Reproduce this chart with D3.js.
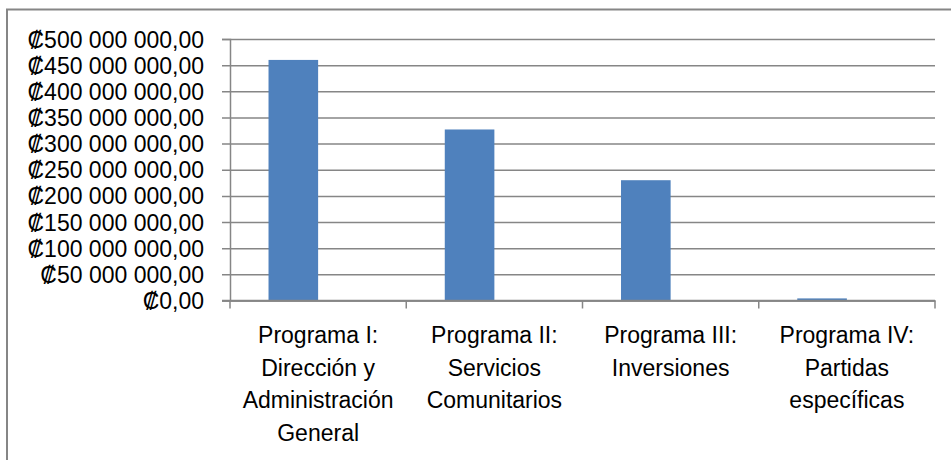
<!DOCTYPE html>
<html>
<head>
<meta charset="utf-8">
<script src="https://cdn.jsdelivr.net/npm/d3@7"></script>
<style>
  html, body { margin: 0; padding: 0; background: #fff; }
  svg { display: block; }
  text { font-family: "Liberation Sans", Arial, "DejaVu Sans", sans-serif; fill: #000; }
</style>
</head>
<body>
<div id="chart"></div>
<script>
// ---- data ----
const categories = [
  "Programa I: Dirección y Administración General",
  "Programa II: Servicios Comunitarios",
  "Programa III: Inversiones",
  "Programa IV: Partidas específicas"
];
const seriesNames = ["Monto", "Vacía"];
const values = [460000000, 327000000, 230000000, 4000000];
const yTicks = [0, 50000000, 100000000, 150000000, 200000000, 250000000, 300000000, 350000000, 400000000, 450000000, 500000000];

// ---- layout ----
const W = 951, H = 460;
const plot = { left: 230, right: 935, top: 39, bottom: 300.5 };

const svg = d3.select("#chart").append("svg").attr("width", W).attr("height", H);

// outer border (extends past right/bottom edge)
svg.append("rect")
  .attr("x", 7).attr("y", 9.5)
  .attr("width", W + 10).attr("height", H + 10)
  .attr("fill", "#fff").attr("stroke", "#868686").attr("stroke-width", 2);

const locale = d3.formatLocale({ decimal: ",", thousands: "\u00a0", grouping: [3], currency: ["₡", ""] });
const fmt = locale.format("$,.2f");

const y = d3.scaleLinear().domain([0, 500000000]).range([plot.bottom, plot.top]);
const x0 = d3.scaleBand().domain(categories).range([plot.left, plot.right]).paddingInner(0).paddingOuter(0);
const x1 = d3.scaleBand().domain(seriesNames).range([0, x0.bandwidth()]).paddingInner(0).paddingOuter(0.7765);

// gridlines + y ticks
const yAxis = d3.axisLeft(y).tickValues(yTicks).tickSize(8).tickFormat(fmt);
const gy = svg.append("g").attr("transform", `translate(${plot.left},0)`).call(yAxis);
gy.attr("font-family", null).attr("font-size", null);
gy.select(".domain").attr("stroke", "#868686").attr("stroke-width", 1.5);
gy.selectAll(".tick line").attr("stroke", "#868686").attr("stroke-width", 1.5)
  .attr("x1", -8).attr("x2", plot.right - plot.left);
gy.selectAll(".tick text")
  .attr("x", -26)
  .attr("dy", "0.35em")
  .style("font-size", "23px");

// x axis
const xAxis = d3.axisBottom(x0).tickSize(0).tickFormat("");
const gx = svg.append("g").attr("transform", `translate(0,${plot.bottom})`).call(xAxis);
gx.select(".domain").attr("stroke", "#868686").attr("stroke-width", 1.5);
gx.selectAll(".tick").remove();
const boundaries = categories.map(c => x0(c)).concat([x0.range()[1]]);
gx.selectAll("line.sep").data(boundaries).enter().append("line")
  .attr("class", "sep")
  .attr("x1", d => d).attr("x2", d => d)
  .attr("y1", 0).attr("y2", 8)
  .attr("stroke", "#868686").attr("stroke-width", 1.5);

// bars
svg.append("g").selectAll("rect").data(values).enter().append("rect")
  .attr("x", (d, i) => x0(categories[i]) + x1(seriesNames[0]))
  .attr("width", x1.bandwidth())
  .attr("y", d => y(d))
  .attr("height", d => y(0) - y(d))
  .attr("fill", "#4F81BD");

// redraw axis line over bars
svg.append("line").attr("x1", plot.left - 8).attr("x2", plot.right)
  .attr("y1", plot.bottom).attr("y2", plot.bottom)
  .attr("stroke", "#868686").attr("stroke-width", 1.5);

// category labels with wrapping
const maxW = 168, lineH = 32.5;
const labels = svg.append("g");
categories.forEach(c => {
  const cx = x0(c) + x0.bandwidth() / 2;
  const t = labels.append("text").attr("text-anchor", "middle").style("font-size", "23px")
    .attr("x", cx).attr("y", 343);
  const words = c.split(" ");
  let line = [], lines = [];
  const probe = t.append("tspan");
  words.forEach(w => {
    const test = line.concat([w]).join(" ");
    probe.text(test);
    if (probe.node().getComputedTextLength() > maxW && line.length) {
      lines.push(line.join(" "));
      line = [w];
    } else {
      line.push(w);
    }
  });
  lines.push(line.join(" "));
  probe.remove();
  lines.forEach((l, i) => {
    t.append("tspan").attr("x", cx).attr("y", 343 + i * lineH).text(l);
  });
});
</script>
</body>
</html>
